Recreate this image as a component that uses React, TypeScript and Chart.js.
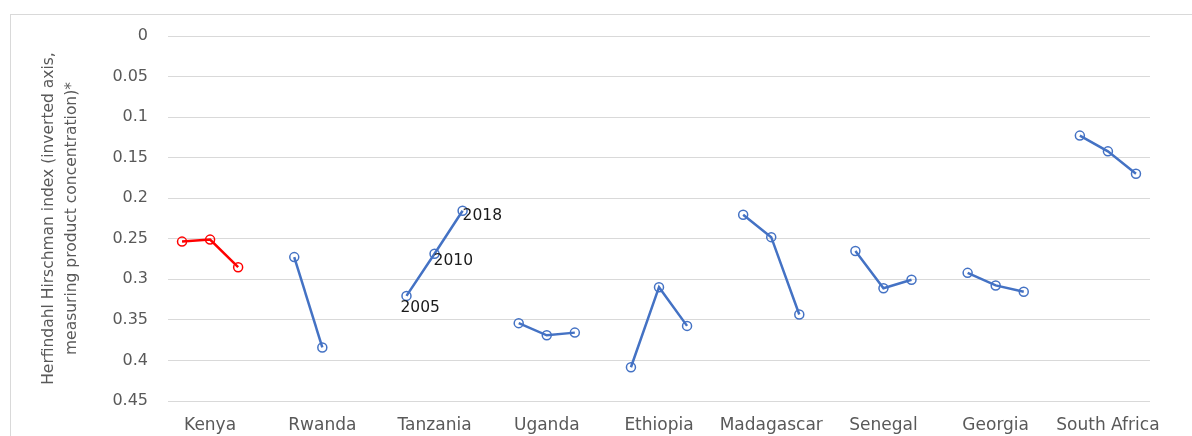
import React, { useEffect, useRef } from "react";
import { Chart, registerables } from "chart.js";

Chart.register(...registerables);

const countries = ["Kenya", "Rwanda", "Tanzania", "Uganda", "Ethiopia", "Madagascar", "Senegal", "Georgia", "South Africa"];
const years = ["2005", "2010", "2018"];

const kenya = [0.2535, 0.251, 0.285];
const rwanda = [0.2726, 0.384];
const tanzania = [0.3204, 0.2685, 0.2154];
const uganda = [0.354, 0.369, 0.3657];
const ethiopia = [0.4084, 0.3097, 0.3574];
const madagascar = [0.2204, 0.248, 0.3434];
const senegal = [0.265, 0.311, 0.3005];
const georgia = [0.292, 0.3075, 0.3154];
const southAfrica = [0.1228, 0.1422, 0.1698];

const seriesValues = [kenya, rwanda, tanzania, uganda, ethiopia, madagascar, senegal, georgia, southAfrica];
const yTicks = [0, 0.05, 0.1, 0.15, 0.2, 0.25, 0.3, 0.35, 0.4, 0.45];

const BLUE = "#4472C4";
const RED = "#FF0000";
const SLOTS = 4;

export default function App() {
  const ref = useRef<HTMLCanvasElement | null>(null);

  useEffect(() => {
    const canvas = ref.current;
    if (!canvas) return;

    const datasets = seriesValues.map((vals, i) => {
      const color = i === 0 ? RED : BLUE;
      return {
        label: countries[i],
        data: vals.map((v, j) => ({ x: i * SLOTS + j, y: v })),
        borderColor: color,
        backgroundColor: color,
        borderWidth: 2.5,
        pointRadius: 4.5,
        pointHoverRadius: 4.5,
        pointBorderWidth: 1.5,
        pointBorderColor: color,
        pointBackgroundColor: "rgba(255,255,255,0)",
        tension: 0,
        fill: false,
      };
    });

    const yearLabelPlugin = {
      id: "yearLabels",
      afterDatasetsDraw(chart: any) {
        const meta = chart.getDatasetMeta(2);
        const ctx = chart.ctx;
        const offsets = [
          [-6, 12],
          [-1, 7],
          [0, 5],
        ];
        ctx.save();
        ctx.font = "15.5px 'DejaVu Sans'";
        ctx.fillStyle = "#1a1a1a";
        ctx.textAlign = "left";
        ctx.textBaseline = "middle";
        meta.data.forEach((pt: any, k: number) => {
          ctx.fillText(years[k], pt.x + offsets[k][0], pt.y + offsets[k][1]);
        });
        ctx.restore();
      },
    };

    const chart = new Chart(canvas, {
      type: "line",
      data: { datasets },
      options: {
        animation: false,
        responsive: false,
        devicePixelRatio: 1,
        events: [],
        layout: { padding: { left: 37.5, top: 36, right: 42, bottom: 0 } },
        plugins: {
          legend: { display: false },
          tooltip: { enabled: false },
        },
        scales: {
          x: {
            type: "linear",
            min: -0.5,
            max: countries.length * SLOTS - 1.5,
            grid: { display: false, drawTicks: false },
            border: { display: false },
            afterBuildTicks: (axis: any) => {
              axis.ticks = countries.map((_, i) => ({ value: i * SLOTS + 1 }));
            },
            afterFit: (scale: any) => {
              scale.height = 35;
            },
            ticks: {
              autoSkip: false,
              maxRotation: 0,
              minRotation: 0,
              padding: 14,
              color: "#595959",
              font: { family: "'DejaVu Sans'", size: 17 },
              callback: (_v: any, index: number) => countries[index],
            },
          },
          y: {
            type: "linear",
            reverse: true,
            min: 0,
            max: 0.45,
            afterBuildTicks: (axis: any) => {
              axis.ticks = yTicks.map((v) => ({ value: v }));
            },
            afterFit: (scale: any) => {
              scale.width = 130.5;
            },
            grid: { color: "#d9d9d9", lineWidth: 1, drawTicks: false },
            border: { display: false },
            ticks: {
              padding: 20,
              color: "#595959",
              font: { family: "'DejaVu Sans'", size: 16 },
              callback: (v: any) => String(+Number(v).toFixed(2)),
            },
            title: {
              display: true,
              text: ["Herfindahl Hirschman index (inverted axis,", "measuring product concentration)*"],
              color: "#595959",
              font: { family: "'DejaVu Sans'", size: 15.5, lineHeight: 23 / 15.5 },
              padding: 0,
            },
          },
        },
      },
      plugins: [yearLabelPlugin],
    });

    return () => chart.destroy();
  }, []);

  return (
    <div style={{ position: "fixed", left: 0, top: 0, width: 1192, height: 436, overflow: "hidden", background: "#fff" }}>
      <div
        style={{
          position: "absolute",
          left: 10,
          top: 14,
          width: 1300,
          height: 600,
          border: "1px solid #d9d9d9",
          boxSizing: "border-box",
        }}
      />
      <canvas ref={ref} width={1192} height={436} style={{ position: "absolute", left: 0, top: 0, width: 1192, height: 436 }} />
    </div>
  );
}
